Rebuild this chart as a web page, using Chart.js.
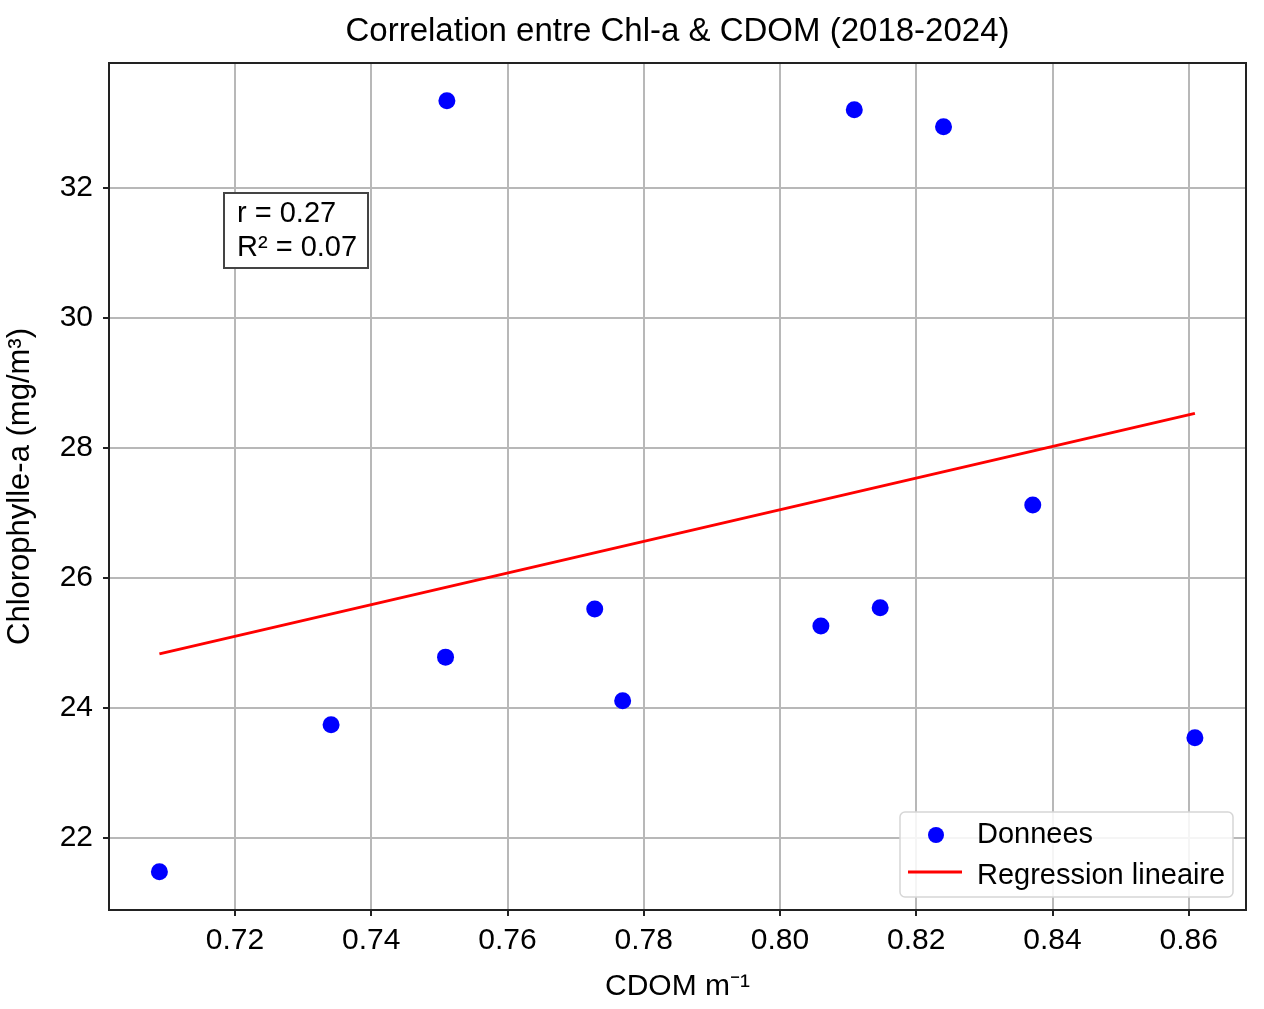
<!DOCTYPE html>
<html lang="fr">
<head>
  <meta charset="UTF-8" />
  <title>Correlation entre Chl-a &amp; CDOM</title>
  <script src="https://cdn.jsdelivr.net/npm/chart.js"></script>
  <style>
    html, body { margin: 0; padding: 0; background: #fff; }
    canvas { display: block; }
  </style>
</head>
<body>
  <canvas id="chart" width="1264" height="1009"></canvas>

  <script>
    // Donnees
    const cdom = [0.7089, 0.7341, 0.7511, 0.7509, 0.7728, 0.7769, 0.8060, 0.8109, 0.8147, 0.8240, 0.8371, 0.8609];
    const chla = [21.48, 23.74, 33.34, 24.78, 25.52, 24.11, 25.26, 33.20, 25.54, 32.94, 27.12, 23.54];

    // Droite de regression (extremites)
    const regX = [0.7089, 0.8609];
    const regY = [24.83, 28.53];

    const statLines = ['r = 0.27', 'R\u00b2 = 0.07'];

    const FONT = '"Liberation Sans", Arial, sans-serif';

    const framePlugin = {
      id: 'frame',
      afterDraw(chart) {
        const { ctx, chartArea: a } = chart;
        ctx.save();

        // cadre complet
        ctx.strokeStyle = '#222';
        ctx.lineWidth = 2;
        ctx.strokeRect(a.left, a.top, a.right - a.left, a.bottom - a.top);

        // boite r / R2
        ctx.fillStyle = '#fff';
        ctx.fillRect(224, 193, 144, 75);
        ctx.strokeStyle = '#444';
        ctx.lineWidth = 2;
        ctx.strokeRect(224, 193, 144, 75);
        ctx.fillStyle = '#000';
        ctx.font = '29px ' + FONT;
        ctx.textBaseline = 'middle';
        ctx.textAlign = 'left';
        ctx.fillText(statLines[0], 237, 214);
        ctx.fillText(statLines[1], 237, 248);

        // legende
        const ds = chart.data.datasets;
        const lx = 900, ly = 812, lw = 333, lh = 85;
        ctx.beginPath();
        ctx.roundRect(lx, ly, lw, lh, 5);
        ctx.fillStyle = 'rgba(255,255,255,0.85)';
        ctx.fill();
        ctx.strokeStyle = '#d6d6d6';
        ctx.lineWidth = 1.5;
        ctx.stroke();

        ctx.beginPath();
        ctx.arc(936, 835, 8, 0, Math.PI * 2);
        ctx.fillStyle = ds[0].backgroundColor;
        ctx.fill();

        ctx.beginPath();
        ctx.moveTo(908, 872);
        ctx.lineTo(962, 872);
        ctx.strokeStyle = ds[1].borderColor;
        ctx.lineWidth = 3;
        ctx.stroke();

        ctx.fillStyle = '#000';
        ctx.fillText(ds[0].label, 977, 835);
        ctx.fillText(ds[1].label, 977, 876);

        ctx.restore();
      }
    };

    const tickFont = { family: FONT, size: 30 };

    new Chart(document.getElementById('chart'), {
      type: 'scatter',
      data: {
        datasets: [
          {
            label: 'Donnees',
            data: cdom.map((x, i) => ({ x: x, y: chla[i] })),
            backgroundColor: '#0000ff',
            borderColor: '#0000ff',
            pointRadius: 8.5,
            borderWidth: 0
          },
          {
            label: 'Regression lineaire',
            type: 'line',
            data: regX.map((x, i) => ({ x: x, y: regY[i] })),
            borderColor: '#ff0000',
            backgroundColor: '#ff0000',
            borderWidth: 3,
            pointRadius: 0,
            fill: false
          }
        ]
      },
      options: {
        responsive: false,
        devicePixelRatio: 1,
        animation: false,
        layout: { padding: { left: 0, right: 18, top: 0, bottom: 0 } },
        plugins: {
          legend: { display: false },
          tooltip: { enabled: false },
          title: {
            display: true,
            fullSize: false,
            text: 'Correlation entre Chl-a & CDOM (2018-2024)',
            color: '#000',
            font: { family: FONT, size: 33, weight: 'normal' },
            padding: { top: 12, bottom: 11.4 }
          }
        },
        scales: {
          x: {
            type: 'linear',
            min: 0.7015,
            max: 0.8684,
            afterFit(scale) { scale.height = 99; },
            ticks: {
              stepSize: 0.02,
              includeBounds: false,
              color: '#000',
              font: tickFont,
              padding: 7,
              maxRotation: 0,
              callback: v => v.toFixed(2)
            },
            grid: { color: '#b8b8b8', lineWidth: 2, tickColor: '#222', tickLength: 6 },
            border: { display: true, color: '#222', width: 2 },
            title: {
              display: true,
              text: 'CDOM m\u207b\u00b9',
              color: '#000',
              font: tickFont,
              padding: { top: 0, bottom: 4 }
            }
          },
          y: {
            type: 'linear',
            min: 20.89,
            max: 33.92,
            afterFit(scale) { scale.width = 109; },
            ticks: {
              stepSize: 2,
              includeBounds: false,
              color: '#000',
              font: tickFont,
              padding: 10
            },
            grid: { color: '#b8b8b8', lineWidth: 2, tickColor: '#222', tickLength: 6 },
            border: { display: true, color: '#222', width: 2 },
            title: {
              display: true,
              text: 'Chlorophylle-a (mg/m\u00b3)',
              color: '#000',
              font: { family: FONT, size: 31 },
              padding: { top: 2, bottom: 0 }
            }
          }
        }
      },
      plugins: [framePlugin]
    });
  </script>
</body>
</html>
